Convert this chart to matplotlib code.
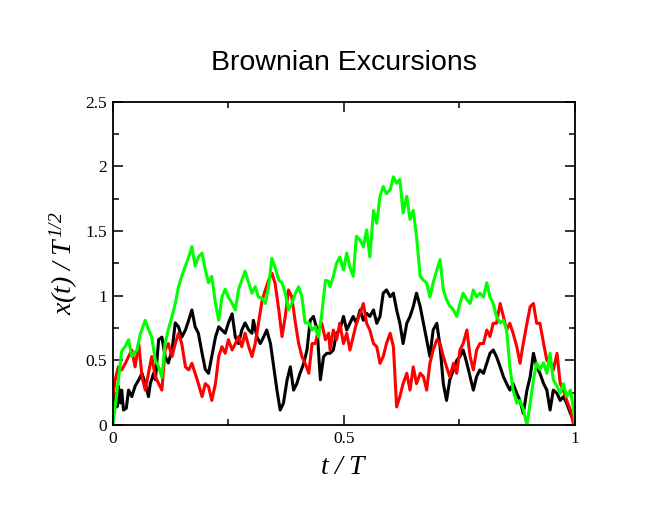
import matplotlib
matplotlib.use("Agg")
import matplotlib.pyplot as plt
from matplotlib.ticker import MultipleLocator

# values (t/T, x(t)/T^1/2)
t_green = [0, 0.012, 0.019, 0.027, 0.034, 0.041, 0.052, 0.059, 0.070, 0.077, 0.084, 0.092, 0.099, 0.106,
           0.113, 0.120, 0.128, 0.135, 0.142, 0.149, 0.157, 0.164, 0.171, 0.178, 0.185, 0.193, 0.200, 0.207,
           0.214, 0.222, 0.229, 0.236, 0.243, 0.250, 0.258, 0.265, 0.272, 0.279, 0.286, 0.294, 0.301, 0.308,
           0.315, 0.323, 0.330, 0.337, 0.344, 0.351, 0.359, 0.366, 0.373, 0.380, 0.387, 0.395, 0.402, 0.409,
           0.416, 0.424, 0.431, 0.438, 0.445, 0.452, 0.460, 0.467,
           0.470, 0.477, 0.484, 0.491, 0.499, 0.506, 0.513, 0.520, 0.527, 0.535, 0.542, 0.549, 0.556, 0.564,
           0.571, 0.578, 0.585, 0.592, 0.600, 0.607, 0.614, 0.621, 0.628, 0.636, 0.643, 0.650, 0.657, 0.665,
           0.672, 0.679, 0.686, 0.693, 0.701, 0.708, 0.715, 0.722, 0.729, 0.737, 0.744, 0.751, 0.758, 0.766,
           0.773, 0.780, 0.787, 0.794, 0.802, 0.809, 0.816, 0.823, 0.830, 0.838, 0.845, 0.852, 0.859, 0.866,
           0.874, 0.881, 0.888, 0.896, 0.903, 0.910, 0.917, 0.924, 0.932, 0.939, 0.946, 0.953, 0.961, 0.968,
           0.975, 0.982, 0.990, 0.997, 1.0]
x_green = [0, 0.35, 0.57, 0.61, 0.66, 0.53, 0.58, 0.70, 0.81, 0.74, 0.68, 0.50, 0.45, 0.37,
           0.63, 0.74, 0.84, 0.94, 1.07, 1.15, 1.23, 1.30, 1.38, 1.23, 1.30, 1.33, 1.20, 1.10,
           1.15, 0.94, 0.81, 0.99, 1.05, 0.99, 0.94, 0.89, 1.05, 1.12, 1.19, 1.10, 1.02, 1.07,
           0.99, 0.98, 0.94, 1.07, 1.29, 1.22, 1.12, 1.10, 1.02, 0.89, 0.94, 1.02, 1.07, 0.99,
           0.79, 0.79, 0.735, 0.76, 0.68, 0.86, 1.12, 1.11,
           1.07, 1.15, 1.25, 1.30, 1.20, 1.33, 1.22, 1.15, 1.46, 1.43, 1.38, 1.51, 1.30, 1.66,
           1.56, 1.77, 1.845, 1.79, 1.82, 1.92, 1.87, 1.90, 1.64, 1.77, 1.59, 1.66, 1.46, 1.15,
           1.12, 1.10, 0.99, 1.10, 1.20, 1.28, 1.045, 0.97, 0.92, 0.89, 0.84, 0.94, 1.02, 0.97,
           0.94, 1.045, 0.99, 1.02, 0.99, 1.10, 0.99, 0.94, 0.84, 0.79, 0.81, 0.735, 0.45, 0.27,
           0.17, 0.19, 0.12, 0.0, 0.17, 0.35, 0.48, 0.43, 0.48, 0.40, 0.555, 0.35, 0.30, 0.245,
           0.32, 0.22, 0.27, 0.12, 0.0]

t_black = [0, 0.005, 0.009, 0.012, 0.016, 0.019, 0.023, 0.029, 0.034, 0.041, 0.048, 0.056, 0.063, 0.070,
           0.077, 0.081, 0.088, 0.092, 0.099, 0.106, 0.113, 0.120, 0.128, 0.135, 0.142, 0.149, 0.157, 0.164,
           0.171, 0.178, 0.185, 0.193, 0.200, 0.207, 0.214, 0.222, 0.229, 0.236, 0.243, 0.250, 0.258, 0.265,
           0.272, 0.279, 0.286, 0.294, 0.301, 0.304, 0.312, 0.319, 0.326, 0.333, 0.341, 0.348, 0.355, 0.362,
           0.369, 0.377, 0.384, 0.391, 0.398, 0.405, 0.413, 0.420, 0.427, 0.434, 0.442, 0.449, 0.456, 0.463,
           0.470, 0.477, 0.484, 0.491, 0.499, 0.506, 0.513, 0.520, 0.527, 0.535, 0.542, 0.549, 0.556, 0.564,
           0.571, 0.578, 0.585, 0.592, 0.600, 0.607, 0.614, 0.621, 0.628, 0.636, 0.643, 0.650, 0.657, 0.665,
           0.672, 0.679, 0.686, 0.693, 0.701, 0.708, 0.715, 0.722, 0.729, 0.737, 0.744, 0.751, 0.758, 0.766,
           0.773, 0.780, 0.787, 0.794, 0.802, 0.809, 0.816, 0.823, 0.830, 0.838, 0.845, 0.852, 0.859, 0.866,
           0.874, 0.881, 0.888, 0.896, 0.903, 0.910, 0.917, 0.924, 0.932, 0.939, 0.946, 0.953, 0.961, 0.968,
           0.975, 0.982, 0.990, 1.0]
x_black = [0.04, 0.245, 0.14, 0.30, 0.17, 0.27, 0.116, 0.13, 0.27, 0.22, 0.30, 0.35, 0.40, 0.32,
           0.22, 0.32, 0.40, 0.35, 0.66, 0.68, 0.53, 0.48, 0.58, 0.79, 0.76, 0.68, 0.735, 0.81,
           0.89, 0.76, 0.71, 0.555, 0.43, 0.40, 0.53, 0.68, 0.76, 0.735, 0.71, 0.79, 0.86, 0.68,
           0.63, 0.735, 0.79, 0.735, 0.71, 0.81, 0.68, 0.63, 0.68, 0.735, 0.63, 0.45, 0.27, 0.116,
           0.168, 0.35, 0.45, 0.27, 0.32, 0.40, 0.477, 0.58, 0.81, 0.84, 0.735, 0.35, 0.53, 0.555,
           0.555, 0.58, 0.71, 0.735, 0.84, 0.735, 0.787, 0.84, 0.787, 0.89, 0.81, 0.864, 0.84, 0.89,
           0.787, 0.84, 1.02, 1.045, 0.993, 1.02, 0.89, 0.787, 0.63, 0.787, 0.84, 0.916, 1.02, 0.916,
           0.787, 0.66, 0.53, 0.735, 0.787, 0.606, 0.32, 0.19, 0.35, 0.426, 0.50, 0.53, 0.58, 0.477,
           0.374, 0.27, 0.374, 0.426, 0.40, 0.477, 0.555, 0.58, 0.53, 0.45, 0.374, 0.32, 0.27, 0.32,
           0.245, 0.19, 0.09, 0.27, 0.374, 0.555, 0.45, 0.40, 0.32, 0.27, 0.116, 0.27, 0.245, 0.19,
           0.22, 0.168, 0.09, 0.013]

t_red = [0, 0.005, 0.012, 0.019, 0.027, 0.034, 0.041, 0.048, 0.056, 0.063, 0.070, 0.077, 0.084, 0.092,
         0.099, 0.106, 0.113, 0.120, 0.128, 0.135, 0.142, 0.149, 0.157, 0.164, 0.171, 0.178, 0.185, 0.193,
         0.200, 0.207, 0.214, 0.222, 0.229, 0.236, 0.243, 0.250, 0.258, 0.265, 0.272, 0.279, 0.286, 0.294,
         0.301, 0.308, 0.315, 0.323, 0.330, 0.337, 0.344, 0.351, 0.359, 0.366, 0.373, 0.380, 0.387, 0.395,
         0.402, 0.409, 0.416, 0.424, 0.431, 0.438, 0.445, 0.452, 0.460, 0.467,
         0.470, 0.477, 0.484, 0.491, 0.499, 0.506, 0.513, 0.520, 0.527, 0.535, 0.542, 0.549, 0.556, 0.564,
         0.571, 0.578, 0.585, 0.592, 0.600, 0.607, 0.614, 0.621, 0.628, 0.636, 0.643, 0.650, 0.657, 0.665,
         0.672, 0.679, 0.686, 0.693, 0.701, 0.708, 0.715, 0.722, 0.729, 0.737, 0.744, 0.751, 0.758, 0.766,
         0.773, 0.780, 0.787, 0.794, 0.802, 0.809, 0.816, 0.823, 0.830, 0.838, 0.845, 0.852, 0.859, 0.866,
         0.874, 0.881, 0.888, 0.896, 0.903, 0.910, 0.917, 0.924, 0.932, 0.939, 0.946, 0.953, 0.961, 0.968,
         0.975, 0.982, 0.990, 0.997]
x_red = [0.22, 0.35, 0.45, 0.426, 0.477, 0.53, 0.58, 0.45, 0.63, 0.374, 0.27, 0.40, 0.53, 0.374,
         0.32, 0.27, 0.58, 0.63, 0.53, 0.63, 0.71, 0.63, 0.45, 0.426, 0.477, 0.40, 0.32, 0.22,
         0.32, 0.297, 0.19, 0.32, 0.53, 0.606, 0.555, 0.66, 0.58, 0.63, 0.684, 0.606, 0.71, 0.606,
         0.53, 0.63, 0.787, 0.967, 1.045, 1.12, 1.174, 1.096, 0.89, 0.684, 0.84, 1.045, 0.993, 0.787,
         0.63, 0.53, 0.477, 0.40, 0.63, 0.63, 0.735, 0.787, 0.66, 0.71,
         0.58, 0.735, 0.66, 0.787, 0.63, 0.71, 0.58, 0.684, 0.787, 0.864, 0.94, 0.787, 0.735, 0.63,
         0.606, 0.477, 0.53, 0.63, 0.71, 0.606, 0.14, 0.22, 0.32, 0.40, 0.27, 0.45, 0.32, 0.40,
         0.374, 0.27, 0.477, 0.58, 0.66, 0.63, 0.53, 0.45, 0.374, 0.477, 0.40, 0.58, 0.63, 0.735,
         0.53, 0.426, 0.58, 0.63, 0.63, 0.735, 0.684, 0.787, 0.787, 0.94, 0.84, 0.735, 0.787, 0.71,
         0.606, 0.477, 0.63, 0.787, 0.916, 0.94, 0.787, 0.787, 0.63, 0.50, 0.477, 0.426, 0.555, 0.32,
         0.27, 0.19, 0.116, 0.0]

x_ticks = [0, 0.5, 1]
x_ticklabels = ['0', '0.5', '1']
y_ticks = [0, 0.5, 1, 1.5, 2, 2.5]
y_ticklabels = ['0', '0.5', '1', '1.5', '2', '2.5']

plt.rcParams['mathtext.fontset'] = 'custom'
plt.rcParams['mathtext.rm'] = 'Liberation Serif:italic'
plt.rcParams['mathtext.it'] = 'Liberation Serif:italic'

fig = plt.figure(figsize=(6.64, 5.13), dpi=100)
ax = fig.add_axes([0.170, 0.1715, 0.696, 0.630])

ax.plot(t_black, x_black, color='black', lw=2.2)
ax.plot(t_red, x_red, color='#ff0000', lw=2.2)
ax.plot(t_green, x_green, color='#00ff00', lw=2.2)

ax.set_xlim(0, 1)
ax.set_ylim(0, 2.5)
ax.set_xticks(x_ticks)
ax.set_xticklabels(x_ticklabels, family='Liberation Serif', fontsize=12.5)
ax.set_yticks(y_ticks)
ax.set_yticklabels(y_ticklabels, family='Liberation Serif', fontsize=12.5)
ax.xaxis.set_minor_locator(MultipleLocator(0.25))
ax.yaxis.set_minor_locator(MultipleLocator(0.25))
ax.tick_params(which='both', direction='in', top=True, right=True, width=1.1)
ax.tick_params(which='major', length=7.5, pad=4)
ax.tick_params(which='minor', length=4)
for s in ax.spines.values():
    s.set_linewidth(1.3)

ax.set_xlabel(r'$t\ /\ T$', fontsize=20, labelpad=4)
ax.set_ylabel(r'$x(t)\ /\ T^{1/2}$', fontsize=20, labelpad=4)
fig.text(0.518, 0.878, 'Brownian Excursions', ha='center', va='center',
         family='Liberation Sans', fontsize=20.5)

fig.savefig('out.png', dpi=100)
